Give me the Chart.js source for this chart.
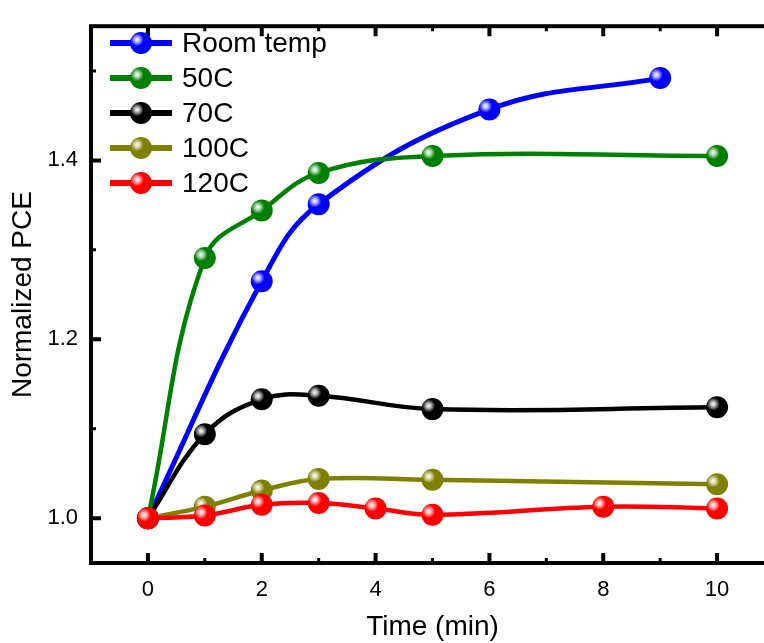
<!DOCTYPE html>
<html>
<head>
<meta charset="utf-8">
<script src="https://cdn.jsdelivr.net/npm/chart.js@4/dist/chart.umd.min.js"></script>
<style>
  html, body { margin: 0; padding: 0; background: #fff; overflow: hidden; }
  canvas { display: block; }
</style>
</head>
<body>
<canvas id="chart" width="790" height="643"></canvas>
<script>
// values
const seriesNames = ['Room temp', '50C', '70C', '100C', '120C'];
const seriesColors = ['#0000ff', '#008000', '#000000', '#808000', '#ff0000'];

const roomTempX = [0, 2, 3, 6, 9];
const roomTempY = [1.000, 1.265, 1.351, 1.457, 1.492];

const c50X = [0, 1, 2, 3, 5, 10];
const c50Y = [1.000, 1.291, 1.344, 1.386, 1.405, 1.405];

const c70X = [0, 1, 2, 3, 5, 10];
const c70Y = [1.000, 1.094, 1.133, 1.137, 1.122, 1.124];

const c100X = [0, 1, 2, 3, 5, 10];
const c100Y = [1.000, 1.013, 1.031, 1.044, 1.043, 1.038];

const c120X = [0, 1, 2, 3, 4, 5, 8, 10];
const c120Y = [1.000, 1.003, 1.015, 1.017, 1.011, 1.004, 1.013, 1.011];

const xMajorTicks = [0, 2, 4, 6, 8, 10];
const xMinorTicks = [-1, 1, 3, 5, 7, 9, 11];
const yMajorTicks = [1.0, 1.2, 1.4];
const yMinorTicks = [1.1, 1.3, 1.5];

const xs = [roomTempX, c50X, c70X, c100X, c120X];
const ys = [roomTempY, c50Y, c70Y, c100Y, c120Y];

function toPoints(x, y) {
  return x.map((v, i) => ({ x: v, y: y[i] }));
}

// shiny ball marker like the original plot software draws
function drawBall(ctx, x, y, r, color) {
  ctx.save();
  ctx.beginPath();
  ctx.arc(x, y, r, 0, Math.PI * 2);
  ctx.fillStyle = color;
  ctx.fill();
  const g = ctx.createRadialGradient(x - r * 0.35, y - r * 0.3, 0, x - r * 0.35, y - r * 0.3, r * 0.6);
  g.addColorStop(0, 'rgba(255,255,255,0.98)');
  g.addColorStop(0.35, 'rgba(255,255,255,0.75)');
  g.addColorStop(1, 'rgba(255,255,255,0)');
  ctx.beginPath();
  ctx.arc(x, y, r, 0, Math.PI * 2);
  ctx.fillStyle = g;
  ctx.fill();
  ctx.restore();
}

const ballPlugin = {
  id: 'balls',
  afterDatasetDraw(chart, args) {
    const ctx = chart.ctx;
    const color = chart.data.datasets[args.index].borderColor;
    args.meta.data.forEach(pt => drawBall(ctx, pt.x, pt.y, 11, color));
  }
};

// frame with inward ticks on all four sides
const framePlugin = {
  id: 'frame',
  afterDraw(chart) {
    const { ctx, chartArea: a } = chart;
    const xs_ = chart.scales.x, ys_ = chart.scales.y;
    ctx.save();
    ctx.strokeStyle = '#000';
    ctx.lineCap = 'butt';
    ctx.lineWidth = 4;
    ctx.strokeRect(a.left, a.top, a.right - a.left, a.bottom - a.top);

    function tickX(v, len, w) {
      const px = xs_.getPixelForValue(v);
      ctx.lineWidth = w;
      ctx.beginPath();
      ctx.moveTo(px, a.bottom); ctx.lineTo(px, a.bottom - len);
      ctx.moveTo(px, a.top); ctx.lineTo(px, a.top + len);
      ctx.stroke();
    }
    function tickY(v, len, w) {
      const py = ys_.getPixelForValue(v);
      ctx.lineWidth = w;
      ctx.beginPath();
      ctx.moveTo(a.left, py); ctx.lineTo(a.left + len, py);
      ctx.moveTo(a.right, py); ctx.lineTo(a.right - len, py);
      ctx.stroke();
    }
    xMajorTicks.forEach(v => tickX(v, 10, 4));
    xMinorTicks.forEach(v => tickX(v, 5, 3));
    yMajorTicks.forEach(v => tickY(v, 10, 4));
    yMinorTicks.forEach(v => tickY(v, 5, 3));
    ctx.restore();
  }
};

// legend inside the plot, top left
const legendPlugin = {
  id: 'innerLegend',
  afterDraw(chart) {
    const ctx = chart.ctx;
    ctx.save();
    ctx.font = '28px "Liberation Sans", Arial, sans-serif';
    ctx.textBaseline = 'middle';
    ctx.textAlign = 'left';
    seriesNames.forEach((name, i) => {
      const y = 43 + i * 35;
      ctx.strokeStyle = seriesColors[i];
      ctx.lineWidth = 6;
      ctx.beginPath();
      ctx.moveTo(110, y); ctx.lineTo(172, y);
      ctx.stroke();
      drawBall(ctx, 141, y, 11, seriesColors[i]);
      ctx.fillStyle = '#000';
      ctx.fillText(name, 182, y + 1);
    });
    ctx.restore();
  }
};

const datasets = seriesNames.map((name, i) => ({
  label: name,
  data: toPoints(xs[i], ys[i]),
  borderColor: seriesColors[i],
  backgroundColor: seriesColors[i],
  borderWidth: i === 0 ? 5 : 4.5,
  tension: 0.4,
  pointRadius: 0,
  pointHoverRadius: 0,
  order: seriesNames.length - i
}));

new Chart(document.getElementById('chart'), {
  type: 'line',
  data: { datasets },
  plugins: [ballPlugin, framePlugin, legendPlugin],
  options: {
    responsive: false,
    animation: false,
    devicePixelRatio: 1,
    layout: { padding: { top: 15, right: 16, left: 0, bottom: 0 } },
    plugins: { legend: { display: false }, tooltip: { enabled: false } },
    scales: {
      x: {
        type: 'linear',
        min: -1,
        max: 11,
        afterFit(s) { s.height = 80; },
        afterBuildTicks(s) { s.ticks = xMajorTicks.map(v => ({ value: v })); },
        grid: { display: false, drawTicks: false },
        border: { display: false },
        ticks: {
          padding: 14,
          color: '#000',
          font: { family: '"Liberation Sans", Arial, sans-serif', size: 22 },
          callback: v => String(v)
        },
        title: {
          display: true,
          text: 'Time (min)',
          color: '#000',
          padding: 0,
          font: { family: '"Liberation Sans", Arial, sans-serif', size: 28, lineHeight: 1.15 }
        }
      },
      y: {
        type: 'linear',
        min: 0.95,
        max: 1.55,
        afterFit(s) { s.width = 91; },
        afterBuildTicks(s) { s.ticks = yMajorTicks.map(v => ({ value: v })); },
        grid: { display: false, drawTicks: false },
        border: { display: false },
        ticks: {
          padding: 13,
          color: '#000',
          font: { family: '"Liberation Sans", Arial, sans-serif', size: 22 },
          callback: v => Number(v).toFixed(1)
        },
        title: {
          display: true,
          text: 'Normalized PCE',
          color: '#000',
          padding: { top: 7, bottom: 0 },
          font: { family: '"Liberation Sans", Arial, sans-serif', size: 28, lineHeight: 1.15 }
        }
      }
    }
  }
});
</script>
</body>
</html>
